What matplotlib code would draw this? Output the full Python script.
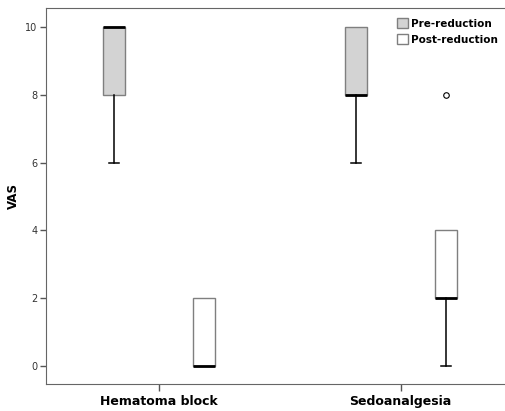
import matplotlib

matplotlib.use("Agg")
import matplotlib.pyplot as plt
from matplotlib.patches import Patch

# box summaries (whislo, q1, med, q3, whishi, outliers)
GROUPS = ["Hematoma block", "Sedoanalgesia"]
SERIES = ["Pre-reduction", "Post-reduction"]
WHISLO = [[6, 0], [6, 0]]
Q1 = [[8, 0], [8, 2]]
MED = [[10, 0], [8, 2]]
Q3 = [[10, 2], [10, 4]]
WHISHI = [[10, 2], [10, 4]]
FLIERS = [[[], []], [[], [8]]]
YTICKS = [0, 2, 4, 6, 8, 10]

FILLS = ["#d3d3d3", "white"]
EDGE = "#7f7f7f"

fig = plt.figure(figsize=(5.06, 4.11), dpi=100)
ax = fig.add_axes([46 / 506, 27 / 411, 460 / 506, 376 / 411])

offset, width = 0.187, 0.091
for gi, g in enumerate(GROUPS):
    for si, s in enumerate(SERIES):
        st = dict(whislo=WHISLO[gi][si], q1=Q1[gi][si], med=MED[gi][si],
                  q3=Q3[gi][si], whishi=WHISHI[gi][si], fliers=FLIERS[gi][si])
        pos = gi + 1 + (offset if si else -offset)
        art = ax.bxp([st], positions=[pos], widths=width, patch_artist=True,
                     capwidths=width * 0.45, manage_ticks=False,
                     boxprops=dict(facecolor=FILLS[si], edgecolor=EDGE, linewidth=1),
                     medianprops=dict(color="black", linewidth=2),
                     whiskerprops=dict(color="black", linewidth=1.1),
                     capprops=dict(color="black", linewidth=1.1),
                     flierprops=dict(marker="o", markersize=4, markerfacecolor="white",
                                     markeredgecolor="black", markeredgewidth=0.8))
        # no cap where the whisker has zero length
        if st["whislo"] == st["q1"]:
            art["caps"][0].set_visible(False)
        if st["whishi"] == st["q3"]:
            art["caps"][1].set_visible(False)

ax.set_xlim(0.531, 2.436)
ax.set_ylim(-0.53, 10.56)
ax.set_xticks([1, 2])
ax.set_xticklabels(GROUPS, fontsize=9, fontweight="bold")
ax.set_yticks(YTICKS)
ax.set_yticklabels([str(v) for v in YTICKS], fontsize=7, color="#333333")
ax.tick_params(axis="both", direction="out", length=4, color="#555555", width=1)
ax.tick_params(axis="y", pad=2)
ax.tick_params(axis="x", length=5, pad=3)
ax.set_ylabel("VAS", fontsize=8.5, fontweight="bold", labelpad=4)

for side in ["left", "top", "bottom"]:
    ax.spines[side].set_color("#666666")
ax.spines["right"].set_visible(False)

handles = [Patch(facecolor=FILLS[i], edgecolor=EDGE, label=SERIES[i]) for i in range(2)]
leg = ax.legend(handles=handles, loc="upper right", bbox_to_anchor=(0.995, 0.99),
                frameon=False, prop=dict(size=7.5, weight="bold"),
                handlelength=1.1, handleheight=1.1, handletextpad=0.2,
                labelspacing=0.55, borderaxespad=0.2)

fig.savefig("out.png", dpi=100)
